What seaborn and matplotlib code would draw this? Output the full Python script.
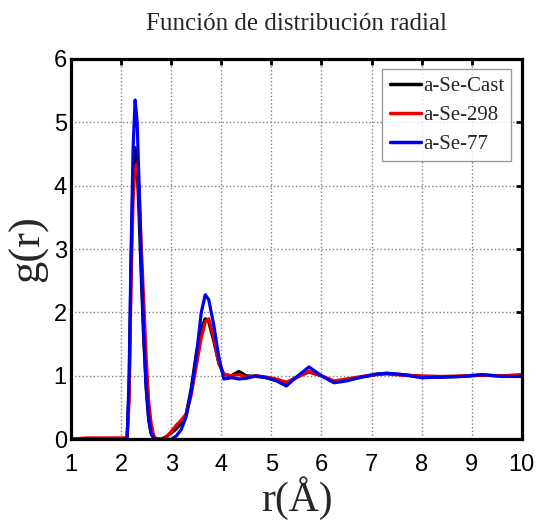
import numpy as np
import pandas as pd
import matplotlib
matplotlib.use("Agg")
import matplotlib.pyplot as plt
import seaborn as sns

# ---- data ----
r = [1.0, 1.3, 1.6, 1.9, 2.05, 2.12, 2.16, 2.2, 2.24, 2.28, 2.32, 2.36, 2.40,
     2.45, 2.5, 2.55, 2.6, 2.65, 2.7, 2.8, 2.9, 3.0, 3.1, 3.2, 3.3, 3.4, 3.5,
     3.6, 3.68, 3.75, 3.85, 3.95, 4.05, 4.2, 4.35, 4.5, 4.7, 4.9, 5.1, 5.3,
     5.5, 5.75, 6.0, 6.25, 6.5, 6.8, 7.1, 7.3, 7.6, 8.0, 8.4, 8.8, 9.2, 9.6, 10.0]

g_cast = [0.0, 0.01, 0.01, 0.01, 0.01, 0.02, 0.8, 2.8, 4.2, 4.6, 4.3, 3.5, 2.6,
          1.6, 0.8, 0.3, 0.08, 0.02, 0.0, 0.0, 0.04, 0.1, 0.16, 0.25, 0.4, 0.8, 1.35,
          1.75, 1.9, 1.85, 1.55, 1.2, 1.02, 1.0, 1.07, 1.0, 0.99, 0.97, 0.93, 0.88,
          0.98, 1.06, 1.0, 0.9, 0.93, 0.98, 1.02, 1.04, 1.02, 0.99, 0.98, 0.99, 1.01, 1.0, 1.0]

g_298 = [0.0, 0.02, 0.02, 0.02, 0.02, 0.03, 0.6, 2.5, 3.8, 4.3, 4.35, 3.9, 3.1,
         2.2, 1.3, 0.6, 0.25, 0.06, 0.01, 0.0, 0.03, 0.12, 0.22, 0.3, 0.4, 0.7, 1.15,
         1.6, 1.85, 1.9, 1.6, 1.2, 1.03, 1.0, 1.02, 0.98, 1.0, 0.98, 0.95, 0.9,
         0.97, 1.07, 1.0, 0.92, 0.95, 0.99, 1.02, 1.03, 1.01, 1.0, 0.99, 1.0, 1.01, 1.0, 1.02]

g_77 = [0.0, 0.0, 0.0, 0.0, 0.0, 0.0, 1.0, 3.0, 4.6, 5.35, 5.0, 4.0, 2.9,
        1.7, 0.85, 0.35, 0.1, 0.02, 0.0, 0.0, 0.0, 0.0, 0.05, 0.15, 0.36, 0.75, 1.3,
        2.0, 2.28, 2.2, 1.8, 1.3, 0.95, 0.97, 0.95, 0.96, 1.0, 0.97, 0.92, 0.84,
        0.98, 1.14, 1.0, 0.89, 0.92, 0.98, 1.03, 1.04, 1.02, 0.97, 0.98, 0.99, 1.02, 0.99, 0.99]

series_names = ["a-Se-Cast", "a-Se-298", "a-Se-77"]
series_colors = ["#000000", "#ee0000", "#0000ee"]

x_ticks = [1, 2, 3, 4, 5, 6, 7, 8, 9, 10]
y_ticks = [0, 1, 2, 3, 4, 5, 6]

df = pd.DataFrame({
    "r": r * 3,
    "g": g_cast + g_298 + g_77,
    "muestra": [series_names[0]] * len(r) + [series_names[1]] * len(r) + [series_names[2]] * len(r),
})

sns.set_theme(style="white")
plt.rcParams["font.family"] = ["Liberation Sans", "DejaVu Sans"]

fig = plt.figure(figsize=(5.38, 5.21), dpi=100)
ax = fig.add_axes([0.132, 0.157, 0.838, 0.730])

sns.lineplot(data=df, x="r", y="g", hue="muestra", hue_order=series_names,
             palette=dict(zip(series_names, series_colors)), linewidth=2.3,
             sort=False, estimator=None, ax=ax)

ax.set_xlim(1, 10)
ax.set_ylim(0, 6)
ax.set_xticks(x_ticks)
ax.set_yticks(y_ticks)
ax.grid(True, linestyle=":", color="#808080", linewidth=1.0)
for s in ax.spines.values():
    s.set_linewidth(2.3)
    s.set_color("black")
ax.tick_params(direction="in", length=4, width=2, top=True, right=True,
               labelsize=17, colors="black")
ax.tick_params(axis="x", pad=11)
ax.tick_params(axis="y", pad=3)

ax.set_xlabel("r(Å)", fontsize=30, family=["Liberation Serif"], labelpad=0)
ax.set_ylabel("g(r)", fontsize=32, family=["Liberation Serif"], labelpad=4)
ax.set_title("Función de distribución radial", fontsize=18,
             family=["Liberation Serif"], pad=21)

leg = ax.legend(loc="upper right", frameon=True, fancybox=False,
                prop={"family": "Liberation Serif", "size": 15},
                handlelength=1.5, handletextpad=0.1, borderpad=0.35,
                labelspacing=0.45, borderaxespad=0.5)
leg.get_frame().set_edgecolor("#808080")
leg.get_frame().set_linewidth(1.0)
for h in leg.get_lines():
    h.set_linewidth(2.5)

fig.savefig("out.png", dpi=100)
